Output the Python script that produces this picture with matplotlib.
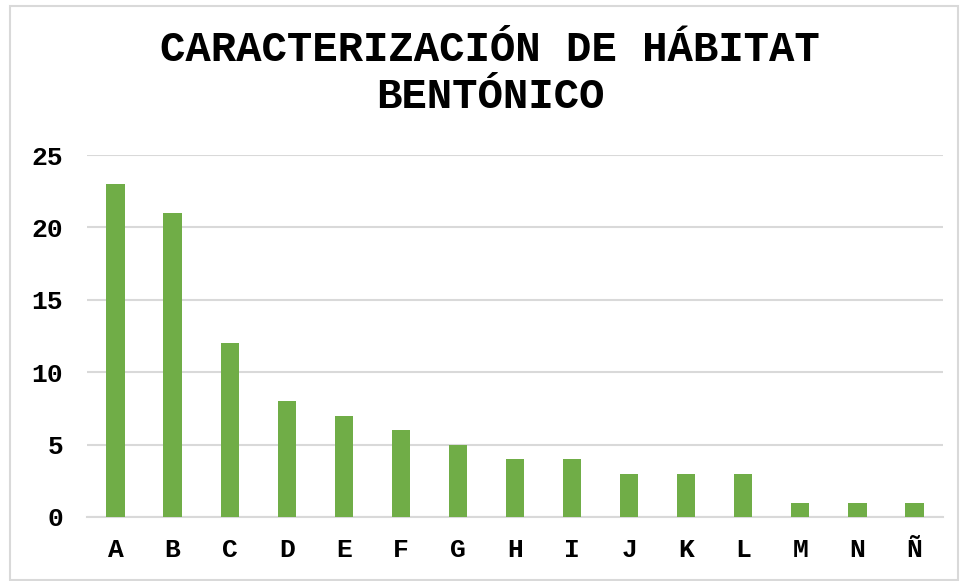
import matplotlib.pyplot as plt
from matplotlib.patches import Rectangle

# datos del grafico
categorias = ["A", "B", "C", "D", "E", "F", "G", "H", "I", "J", "K", "L", "M", "N", "Ñ"]
valores = [23, 21, 12, 8, 7, 6, 5, 4, 4, 3, 3, 3, 1, 1, 1]
ticks_y = [0, 5, 10, 15, 20, 25]

fuente = ["Liberation Mono", "DejaVu Sans Mono"]
plt.rcParams['font.family'] = fuente

fig = plt.figure(figsize=(9.6, 5.81), dpi=100)
W, H = 960, 581
ax = fig.add_axes([87 / W, 1 - 517 / H, (943 - 87) / W, (517 - 155) / H])

x = list(range(len(categorias)))
ax.bar(x, valores, width=0.32, color="#70ad47", zorder=3)

ax.set_xlim(-0.5, len(categorias) - 0.5)
ax.set_ylim(0, 25)
ax.set_yticks(ticks_y)
ax.set_yticklabels([str(t) for t in ticks_y], fontsize=19, fontweight="bold")
ax.set_xticks(x)
ax.set_xticklabels(categorias, fontsize=19, fontweight="bold")
ax.tick_params(axis="both", length=0)
ax.tick_params(axis="y", pad=17)
ax.tick_params(axis="x", pad=15)

ax.grid(axis="y", color="#d9d9d9", linewidth=1.5, zorder=0)
for s in ["top", "right", "left"]:
    ax.spines[s].set_visible(False)
ax.spines["bottom"].set_color("#d9d9d9")
ax.spines["bottom"].set_linewidth(1.5)

fig.text(490 / W, 1 - 50 / H, "CARACTERIZACIÓN DE HÁBITAT", ha="center", va="center",
         fontsize=30.5, fontweight="bold")
fig.text(490 / W, 1 - 97 / H, "BENTÓNICO", ha="center", va="center",
         fontsize=30.5, fontweight="bold")

# borde del grafico
fig.patches.append(Rectangle((10 / W, 0.002), 1 - 10 / W - 0.002, 1 - 6 / H - 0.002,
                             transform=fig.transFigure, fill=False,
                             edgecolor="#d9d9d9", linewidth=1.5))

fig.savefig("out.png", dpi=100)
